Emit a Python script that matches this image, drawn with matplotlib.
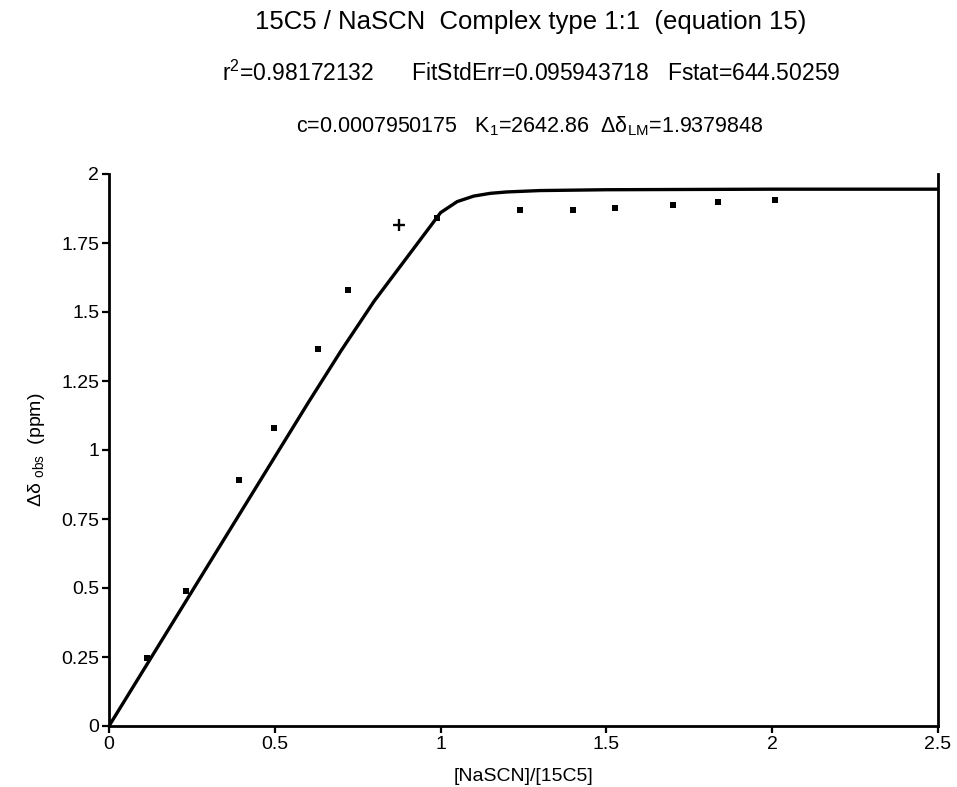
import matplotlib
matplotlib.use('Agg')
from matplotlib import pyplot as plt

plt.rcParams['font.family'] = ['Liberation Sans', 'DejaVu Sans']
plt.rcParams['mathtext.fontset'] = 'custom'
plt.rcParams['mathtext.rm'] = 'Liberation Sans'
plt.rcParams['mathtext.it'] = 'Liberation Sans'
plt.rcParams['mathtext.default'] = 'regular'

ratio_obs = [0.115, 0.233, 0.392, 0.497, 0.630, 0.720, 0.989,
             1.240, 1.400, 1.526, 1.700, 1.836, 2.008]
shift_obs = [0.245, 0.490, 0.890, 1.080, 1.366, 1.580, 1.842,
             1.871, 1.871, 1.877, 1.889, 1.900, 1.907]
# the outlier drawn with a plus
ratio_out = [0.876]
shift_out = [1.815]

# fitted curve
ratio_fit = [0, 0.1, 0.2, 0.3, 0.4, 0.5, 0.6, 0.7, 0.8, 0.85, 0.9, 0.95,
             1.0, 1.05, 1.1, 1.15, 1.2, 1.3, 1.5, 2.0, 2.5]
shift_fit = [0, 0.195, 0.39, 0.585, 0.78, 0.975, 1.17, 1.36, 1.54, 1.62, 1.70, 1.78,
             1.86, 1.90, 1.92, 1.93, 1.935, 1.94, 1.943, 1.945, 1.945]

xticks = [0, 0.5, 1, 1.5, 2, 2.5]
xtick_labels = ['0', '0.5', '1', '1.5', '2', '2.5']
yticks = [0, 0.25, 0.5, 0.75, 1, 1.25, 1.5, 1.75, 2]
ytick_labels = ['0', '0.25', '0.5', '0.75', '1', '1.25', '1.5', '1.75', '2']

title = '15C5 / NaSCN  Complex type 1:1  (equation 15)'
line2 = r'r$^{2}$=0.98172132      FitStdErr=0.095943718   Fstat=644.50259'
line3 = r'c=0.0007950175   K$_{1}$=2642.86  $\Delta\delta_{LM}$=1.9379848'

fig = plt.figure(figsize=(9.57, 7.87), dpi=100)
ax = fig.add_axes([109/957, 1-726/787, (938-109)/957, (726-174)/787])

ax.plot(ratio_fit, shift_fit, color='black', lw=2.4, solid_capstyle='round')
ax.plot(ratio_obs, shift_obs, 's', color='black', ms=4.2, mew=0)
ax.plot(ratio_out, shift_out, '+', color='black', ms=8, mew=1.7)

ax.set_xlim(0, 2.5)
ax.set_ylim(0, 2)
ax.set_xticks(xticks)
ax.set_xticklabels(xtick_labels)
ax.set_yticks(yticks)
ax.set_yticklabels(ytick_labels)
ax.tick_params(direction='out', length=5, width=1.6, labelsize=14, pad=2, colors='black')

ax.spines['top'].set_visible(False)
for s in ['left', 'right', 'bottom']:
    ax.spines[s].set_linewidth(2)

ax.set_xlabel('[NaSCN]/[15C5]', fontsize=14, labelpad=11)
ax.set_ylabel(r'Δδ $_{obs}$  (ppm)', fontsize=14, labelpad=10)

fig.text(0.555, 1-22/787, title, fontsize=18.5, ha='center', va='center')
fig.text(0.555, 1-73/787, line2, fontsize=16.5, ha='center', va='center')
fig.text(0.554, 1-126/787, line3, fontsize=15.5, ha='center', va='center')

fig.savefig('out.png', dpi=100)
